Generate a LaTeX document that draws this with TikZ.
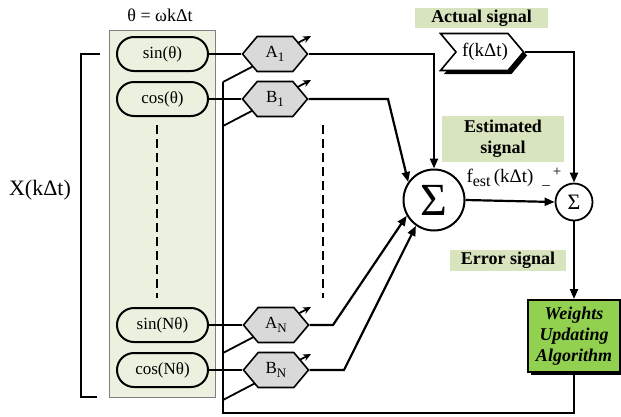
\documentclass[tikz,border=0pt]{standalone}
\usepackage{fontspec}
\setmainfont{Liberation Serif}
\usetikzlibrary{shapes.misc,shapes.symbols,arrows.meta,backgrounds,shadows}
\definecolor{panelg}{HTML}{EBF1DE}
\definecolor{labg}{HTML}{D7E4BD}
\definecolor{hexg}{HTML}{D9D9D9}
\definecolor{wgreen}{HTML}{92D050}
\newcommand{\lsub}[1]{\raisebox{-0.45ex}{\fontsize{13}{13}\selectfont #1}}
\newcommand{\bsub}[1]{\raisebox{-0.5ex}{\fontsize{16}{16}\selectfont #1}}
\begin{document}
\begin{tikzpicture}[x=1pt,y=-1pt,
 pill/.style={draw,line width=2pt,rounded rectangle,fill=panelg,minimum width=91pt,minimum height=34pt,inner sep=0pt,font=\fontsize{17}{19}\selectfont},
 hexa/.style={draw,line width=1.6pt,fill=hexg,signal,signal to=east and west,signal pointer angle=100,minimum width=65pt,minimum height=35pt,inner sep=0pt,font=\fontsize{17}{19}\selectfont},
 lab/.style={fill=labg,inner sep=0pt,font=\bfseries\fontsize{18}{21}\selectfont,align=center},
 line/.style={line width=2.2pt},
 arr/.style={line width=2.2pt,-{Triangle[length=10pt,width=8pt]}},
 warr/.style={line width=1.8pt,-{Stealth[length=8pt,width=7pt]}},
 dsh/.style={line width=1.1pt,dash pattern=on 9pt off 5pt},
]
\useasboundingbox (0,0) rectangle (621,416);
\node[pill] (s1) at (162.5,54) {sin(θ)};
\node[pill] (c1) at (162.5,99) {cos(θ)};
\node[pill] (sN) at (162.5,325) {sin(Nθ)};
\node[pill] (cN) at (162.5,370) {cos(Nθ)};
\node[hexa] (A1) at (275,54) {A\lsub{1}};
\node[hexa] (B1) at (275,99) {B\lsub{1}};
\node[hexa] (AN) at (276,325) {A\lsub{N}};
\node[hexa] (BN) at (276,370) {B\lsub{N}};
\node[circle,draw,line width=2pt,minimum size=61pt,inner sep=0pt,font=\fontsize{46}{46}\selectfont] (sig) at (434,200) {Σ};
\node[circle,draw,line width=1.8pt,minimum size=37pt,inner sep=0pt,font=\fontsize{22}{22}\selectfont] (sum) at (574,202) {Σ};
\node[draw,line width=1.6pt,fill=white,signal,signal to=east,signal from=west,signal pointer angle=100,minimum width=76pt,minimum height=37pt,inner sep=0pt,font=\fontsize{19}{20}\selectfont,drop shadow={shadow xshift=3.5pt,shadow yshift=-3.5pt,fill=black,opacity=1}] (act) at (482,52) {\hspace{6pt}f(kΔt)};
\node[lab,minimum width=133pt,minimum height=20pt] (lact) at (481.5,18) {Actual signal};
\node[lab,minimum width=122pt,minimum height=46pt] (lest) at (503,139) {Estimated\\signal};
\node[lab,minimum width=116pt,minimum height=21pt] (lerr) at (508,260.5) {Error signal};
\node[draw,line width=2pt,fill=wgreen,minimum width=92pt,minimum height=72pt,inner sep=0pt,align=center,font=\bfseries\itshape\fontsize{18}{21}\selectfont,drop shadow={shadow xshift=3pt,shadow yshift=-3pt,fill=black,opacity=1}] (wua) at (574,336) {Weights\\Updating\\Algorithm};
\node[font=\fontsize{19}{20}\selectfont] (fest) at (500,178) {f\bsub{est}\,(kΔt)};
\node[font=\fontsize{15}{15}\selectfont] (plus) at (557,172) {+};
\node[font=\fontsize{15}{15}\selectfont] (minus) at (546,188) {–};
\node[font=\fontsize{22}{24}\selectfont] (X) at (40,190) {X(kΔt)};
\node[font=\fontsize{18}{20}\selectfont] (th) at (160,15) {θ = ωkΔt};
\coordinate (wa1) at (223,82);
\coordinate (wb1) at (223,126);
\coordinate (wan) at (223,353);
\coordinate (wbn) at (223,400);
\coordinate (ta1) at (311,36);
\coordinate (tb1) at (311,80);
\coordinate (tan) at (311,307);
\coordinate (tbn) at (311,354);
\begin{scope}[on background layer]
\node[fill=panelg,draw=gray,line width=0.8pt,minimum width=106pt,minimum height=367pt,inner sep=0pt] (panel) at (162,213.5) {};
\draw[warr] (wa1) -- (ta1);
\draw[warr] (wb1) -- (tb1);
\draw[warr] (wan) -- (tan);
\draw[warr] (wbn) -- (tbn);
\end{scope}
\draw[line] (100,54) -- (81,54) -- (81,397) -- (97,397);
\draw[dsh] (157,125) -- (157,298);
\draw[dsh] (323,125) -- (323,298);
\draw[line] (s1.east) -- (A1.west);
\draw[line] (c1.east) -- (B1.west);
\draw[line] (sN.east) -- (AN.west);
\draw[line] (cN.east) -- (BN.west);
\draw[arr] (A1.east) -| (sig.north);
\draw[arr] (B1.east) -- (388,99) -- (sig.145);
\draw[arr] (AN.east) -- (333,325) -- (sig.210);
\draw[arr] (BN.east) -- (344,370) -- (sig.235);
\draw[arr] (sig.east) -- (sum.west);
\draw[arr] (act.east) -| (sum.north);
\draw[arr] (sum.south) -- (wua.north);
\draw[line] (wua.south) |- (223,413) -- (wa1);
\end{tikzpicture}
\end{document}
